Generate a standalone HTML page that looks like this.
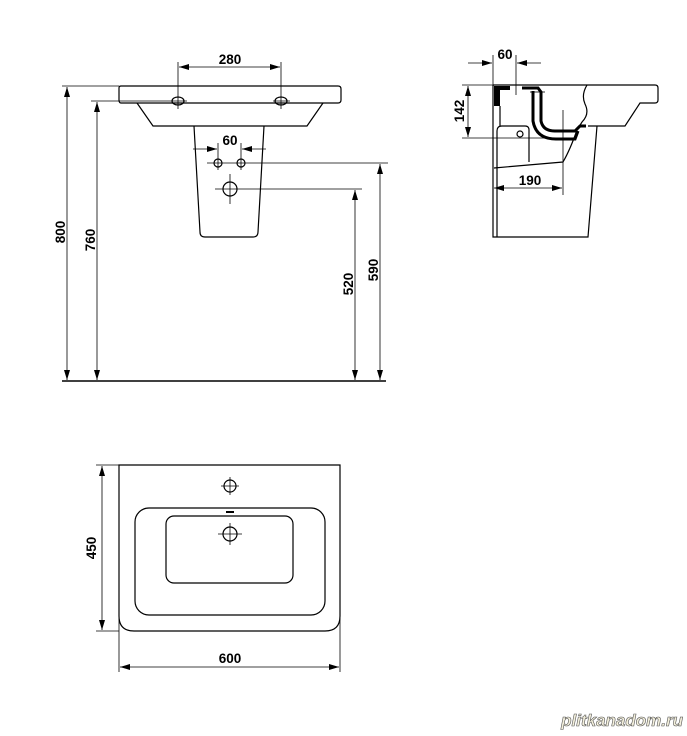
<!DOCTYPE html>
<html><head><style>
html,body{margin:0;padding:0;background:#fff;}
svg{display:block}
text{font-family:"Liberation Sans",Arial,sans-serif;font-weight:bold;font-size:13.5px;fill:#000}
</style></head><body>
<svg width="687" height="736" viewBox="0 0 687 736" xmlns="http://www.w3.org/2000/svg">
<defs>
<marker id="a" viewBox="0 0 10 6" refX="10" refY="3" markerWidth="10" markerHeight="6" orient="auto-start-reverse" markerUnits="userSpaceOnUse"><path d="M0,0 L10,3 L0,6z" fill="#000"/></marker>
</defs>
<g fill="none" stroke="#000" stroke-width="1.2">
<path d="M121,86 H338 Q341,86 341,89 V100 Q341,103 338,103 H121 Q119,103 119,100 V88 Q119,86 121,86z"/>
<path d="M137,103 L153,126 H307 L323,103"/>
<path d="M194,126 L200,232 Q200,237 205,237 H253 Q258,237 258,232 L264,126"/>
<ellipse cx="178" cy="101" rx="6" ry="4"/>
<ellipse cx="281" cy="101" rx="6" ry="4"/>
<circle cx="218" cy="163" r="4"/>
<circle cx="241" cy="163" r="4"/>
<circle cx="230" cy="189" r="7"/>
</g>
<g fill="none" stroke="#000" stroke-width="0.8">
<line x1="178" y1="62" x2="178" y2="109"/><line x1="281" y1="62" x2="281" y2="109"/>
<line x1="179" y1="67" x2="280" y2="67" marker-start="url(#a)" marker-end="url(#a)"/>
<line x1="170" y1="101" x2="187" y2="101"/><line x1="273" y1="101" x2="290" y2="101"/>
<line x1="218" y1="143" x2="218" y2="170"/><line x1="241" y1="143" x2="241" y2="170"/>
<line x1="193" y1="149" x2="217" y2="149" marker-end="url(#a)"/>
<line x1="266" y1="149" x2="242" y2="149" marker-end="url(#a)"/>
<line x1="207" y1="163" x2="388" y2="163"/>
<line x1="215" y1="189" x2="362" y2="189"/>
<line x1="230" y1="174" x2="230" y2="204"/>
<line x1="62" y1="86" x2="119" y2="86"/>
<line x1="91" y1="101" x2="170" y2="101"/>
<line x1="67" y1="87" x2="67" y2="380" marker-start="url(#a)" marker-end="url(#a)"/>
<line x1="97" y1="102" x2="97" y2="380" marker-start="url(#a)" marker-end="url(#a)"/>
<line x1="355" y1="190" x2="355" y2="380" marker-start="url(#a)" marker-end="url(#a)"/>
<line x1="380" y1="164" x2="380" y2="380" marker-start="url(#a)" marker-end="url(#a)"/>
</g>
<line x1="62" y1="381" x2="386" y2="381" stroke="#000" stroke-width="1.4"/>
<text x="230" y="64" text-anchor="middle">280</text>
<text x="230" y="145" text-anchor="middle">60</text>
<text transform="translate(65,232) rotate(-90)" text-anchor="middle">800</text>
<text transform="translate(95,240) rotate(-90)" text-anchor="middle">760</text>
<text transform="translate(353,284) rotate(-90)" text-anchor="middle">520</text>
<text transform="translate(378,270) rotate(-90)" text-anchor="middle">590</text>

<!-- side view -->
<g fill="none" stroke="#000" stroke-width="1.2">
<path d="M493,85 H655 Q658,85 658,88 V100 Q658,103 655,103 H640 L625,126 H588"/>
<path d="M493,85 V237 H588 L597,126"/>
<path d="M497,237 V131 Q497,126 502,126 H525 Q529,126 529,130 V162"/>
<path d="M587,85 Q581,95 585,104 Q590,114 582,122 L577,130 Q570,150 563,162 L494,168"/>
<path d="M500,106 V126"/>
<circle cx="520" cy="134" r="3"/>
</g>
<g fill="#000" stroke="none">
<rect x="494" y="86" width="6" height="20"/>
<rect x="494" y="86" width="16" height="4"/>
</g>
<g fill="none" stroke="#000" stroke-width="3">
<path d="M522,88 H538 L541,92 V121 Q543,131 555,131 H575 L580,126 H586"/>
<path d="M533,91 V121 Q536,139 556,139 H575 L578,131"/>
</g>
<g fill="none" stroke="#000" stroke-width="0.8">
<line x1="462" y1="85" x2="493" y2="85"/>
<line x1="462" y1="138" x2="560" y2="138"/>
<line x1="468" y1="86" x2="468" y2="137" marker-start="url(#a)" marker-end="url(#a)"/>
<line x1="493" y1="55" x2="493" y2="85"/>
<line x1="516" y1="55" x2="516" y2="95"/>
<line x1="468" y1="63" x2="492" y2="63" marker-end="url(#a)"/>
<line x1="541" y1="63" x2="517" y2="63" marker-end="url(#a)"/>
<line x1="563" y1="110" x2="563" y2="195"/>
<line x1="494" y1="188" x2="562" y2="188" marker-start="url(#a)" marker-end="url(#a)"/>
<line x1="530" y1="92" x2="545" y2="92"/>
</g>
<text x="505" y="59" text-anchor="middle">60</text>
<text x="530" y="185" text-anchor="middle">190</text>
<text transform="translate(464,111) rotate(-90)" text-anchor="middle">142</text>

<!-- top view -->
<g fill="none" stroke="#000" stroke-width="1.2">
<path d="M119,465 H340 V616 Q340,631 325,631 H134 Q119,631 119,616 Z"/>
<rect x="135" y="508" width="190" height="107" rx="14"/>
<rect x="166" y="516" width="127" height="67" rx="8"/>
<circle cx="230" cy="486" r="6"/>
<circle cx="230" cy="534" r="7"/>
</g>
<g fill="none" stroke="#000" stroke-width="0.8">
<line x1="221" y1="486" x2="239" y2="486"/><line x1="230" y1="477" x2="230" y2="495"/>
<line x1="218" y1="534" x2="242" y2="534"/><line x1="230" y1="523" x2="230" y2="545"/>
<line x1="96" y1="465" x2="119" y2="465"/><line x1="96" y1="631" x2="119" y2="631"/>
<line x1="102" y1="466" x2="102" y2="630" marker-start="url(#a)" marker-end="url(#a)"/>
<line x1="119" y1="465" x2="119" y2="672"/><line x1="340" y1="465" x2="340" y2="672"/>
<line x1="120" y1="667" x2="339" y2="667" marker-start="url(#a)" marker-end="url(#a)"/>
</g>
<line x1="226" y1="512" x2="234" y2="512" stroke="#000" stroke-width="2"/>
<text x="230" y="663" text-anchor="middle">600</text>
<text transform="translate(96,548) rotate(-90)" text-anchor="middle">450</text>

<text x="683" y="726" text-anchor="end" style="font-size:17px;font-style:italic;fill:#f4f0dc;stroke:#555;stroke-width:0.6">plitkanadom.ru</text>
</svg>
</body></html>
